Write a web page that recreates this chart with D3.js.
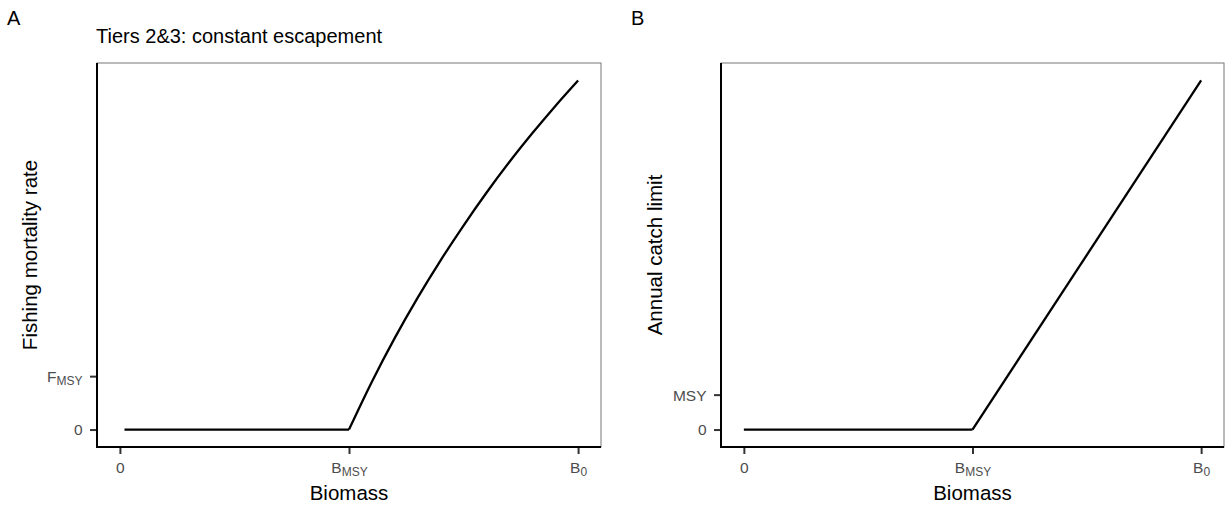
<!DOCTYPE html>
<html><head>
<meta http-equiv="content-type" content="text/html; charset=UTF-8">
<script src="https://d3js.org/d3.v7.min.js"></script>
<title>Harvest control rules</title>
<style>
body{ margin:0; background:#fff; }
text{ font-family: "Liberation Sans", Arial, sans-serif; }
</style>
</head>
<body>
<div id="graphe"></div>
<script>
// biomass as a fraction of B0 (BMSY = 0.5)
const biomasseA = [0.01, 0.5, 0.55, 0.6, 0.65, 0.7, 0.75, 0.8, 0.85, 0.9, 0.95, 1.0];
const mortaliteA = [0, 0, 0.095, 0.182, 0.262, 0.336, 0.405, 0.470, 0.531, 0.588, 0.642, 0.693];
const biomasseB = [0, 0.5, 1.0];
const captureB = [0, 0, 0.5];

const ticksX = [0, 0.5, 1.0];
const labelsX = [["0", ""], ["B", "MSY"], ["B", "0"]];
const ticksYA = [0, 0.106];
const labelsYA = [["0", ""], ["F", "MSY"]];
const ticksYB = [0, 0.05];
const labelsYB = [["0", ""], ["MSY", ""]];

const W = 1225, H = 510;
const haut = 63, bas = 447;

let svg = d3.select("#graphe").append("svg")
	.attr("width", W)
	.attr("height", H);

let panneau = function(opt){
	let ptsAll = opt.x.map((d,i) => ({b:d, v:opt.y[i]}));
	let span = d3.max(opt.y);
	let Ech_x = d3.scaleLinear().domain([-0.05, 1.05]).range([opt.left, opt.right]);
	let Ech_y = d3.scaleLinear().domain([-0.05*span, 1.05*span]).range([bas, haut]);

	let g = svg.append("g");

	// panel border (thin, top and right)
	g.append("rect")
		.attr("x", opt.left).attr("y", haut)
		.attr("width", opt.right - opt.left).attr("height", bas - haut)
		.attr("fill", "none").attr("stroke", "#777").attr("stroke-width", 1);

	// x axis
	let ax = g.append("g").attr("transform", "translate(0," + bas + ")")
		.call(d3.axisBottom(Ech_x).tickValues(ticksX).tickSize(7).tickFormat(""));
	ax.select(".domain").remove();
	ax.selectAll(".tick line").attr("stroke", "#333").attr("stroke-width", 2);
	ax.selectAll(".tick text")
		.attr("y", 25.5).attr("dy", null)
		.attr("fill", "#4d4d4d").style("font-size", "15.5px")
		.each(function(d,i){
			let t = d3.select(this);
			t.append("tspan").text(labelsX[i][0]);
			if(labelsX[i][1] != "")
				t.append("tspan").attr("dy", 3).style("font-size", "12px").text(labelsX[i][1]);
		});

	// y axis
	let ay = g.append("g").attr("transform", "translate(" + opt.left + ",0)")
		.call(d3.axisLeft(Ech_y).tickValues(opt.ticks).tickSize(7).tickFormat(""));
	ay.select(".domain").remove();
	ay.selectAll(".tick line").attr("stroke", "#333").attr("stroke-width", 2);
	ay.selectAll(".tick text")
		.attr("x", -14.5).attr("dy", "0.35em")
		.attr("fill", "#4d4d4d").style("font-size", "15.5px")
		.each(function(d,i){
			let t = d3.select(this);
			t.append("tspan").text(opt.labels[i][0]);
			if(opt.labels[i][1] != "")
				t.append("tspan").attr("dy", 3).style("font-size", "12px").text(opt.labels[i][1]);
		});

	// axis lines (thick, left and bottom)
	g.append("path")
		.attr("d", "M" + opt.left + "," + haut + "V" + bas + "H" + opt.right)
		.attr("fill", "none").attr("stroke", "#000").attr("stroke-width", 2);

	// flat part then rising part
	let ligne = d3.line().x(d => Ech_x(d.b)).y(d => Ech_y(d.v));
	let plat = ptsAll.filter(d => d.b <= 0.5);
	let monte = ptsAll.filter(d => d.b >= 0.5);
	g.append("path").attr("d", ligne(plat))
		.attr("fill", "none").attr("stroke", "#000").attr("stroke-width", 2.3);
	g.append("path").attr("d", ligne.curve(opt.courbe)(monte))
		.attr("fill", "none").attr("stroke", "#000").attr("stroke-width", 2.3);

	// titles
	g.append("text")
		.attr("x", (opt.left + opt.right)/2).attr("y", 500)
		.attr("text-anchor", "middle").style("font-size", "20.5px")
		.text("Biomass");
	g.append("text")
		.attr("transform", "translate(" + opt.ytitleX + "," + (haut + bas)/2 + ") rotate(-90)")
		.attr("text-anchor", "middle").style("font-size", "20.5px")
		.text(opt.ytitle);
	g.append("text")
		.attr("x", opt.tagX).attr("y", 25)
		.style("font-size", "20px")
		.text(opt.tag);
	if(opt.titre)
		g.append("text")
			.attr("x", opt.left - 1).attr("y", 43)
			.style("font-size", "20px")
			.text(opt.titre);
};

panneau({x: biomasseA, y: mortaliteA, left: 97, right: 601,
	ticks: ticksYA, labels: labelsYA, courbe: d3.curveMonotoneX,
	ytitle: "Fishing mortality rate", ytitleX: 36.5,
	tag: "A", tagX: 7, titre: "Tiers 2&3: constant escapement"});

panneau({x: biomasseB, y: captureB, left: 721, right: 1224,
	ticks: ticksYB, labels: labelsYB, courbe: d3.curveLinear,
	ytitle: "Annual catch limit", ytitleX: 662,
	tag: "B", tagX: 631, titre: null});
</script>
</body>
</html>
